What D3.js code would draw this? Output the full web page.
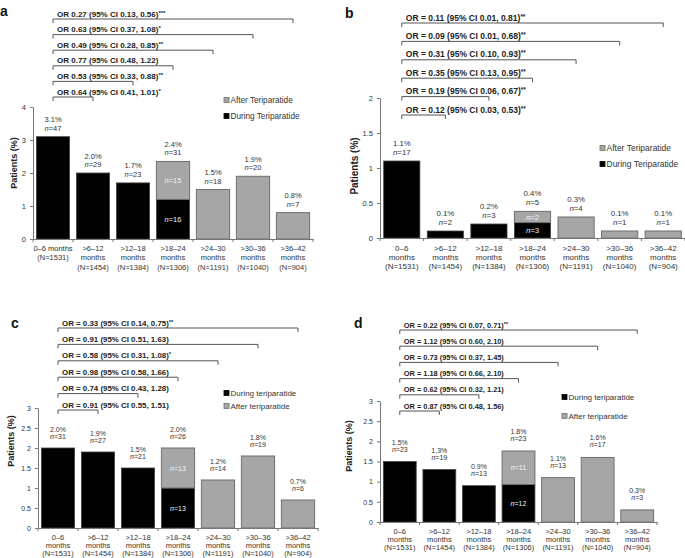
<!DOCTYPE html>
<html>
<head>
<meta charset="utf-8">
<script src="https://cdn.jsdelivr.net/npm/d3@7"></script>
<style>
  body { margin: 0; background: #fff; }
  svg { font-family: "Liberation Sans", Arial, sans-serif; }
</style>
</head>
<body>
<svg id="chart" width="685" height="558"></svg>
<script>
const periodRanges = ["0–6", ">6–12", ">12–18", ">18–24", ">24–30", ">30–36", ">36–42"];
const periodN = [1531, 1454, 1384, 1306, 1191, 1040, 904];

// panel a
const duringA = [3.1, 2.0, 1.7, 1.2, 0, 0, 0];
const afterA = [0, 0, 0, 1.15, 1.5, 1.9, 0.8];
const pctA = ["3.1%", "2.0%", "1.7%", "2.4%", "1.5%", "1.9%", "0.8%"];
const nA = [47, 29, 23, 31, 18, 20, 7];
const splitA = [16, 15];
const orA = [
  ["OR 0.64 (95% CI 0.41, 1.01)", "*"],
  ["OR 0.53 (95% CI 0.33, 0.88)", "**"],
  ["OR 0.77 (95% CI 0.48, 1.22)", ""],
  ["OR 0.49 (95% CI 0.28, 0.85)", "**"],
  ["OR 0.63 (95% CI 0.37, 1.08)", "*"],
  ["OR 0.27 (95% CI 0.13, 0.56)", "***"],
];

// panel b
const duringB = [1.1, 0.1, 0.2, 0.22, 0, 0, 0];
const afterB = [0, 0, 0, 0.16, 0.3, 0.1, 0.1];
const pctB = ["1.1%", "0.1%", "0.2%", "0.4%", "0.3%", "0.1%", "0.1%"];
const nB = [17, 2, 3, 5, 4, 1, 1];
const splitB = [3, 2];
const orB = [
  ["OR = 0.12 (95% CI 0.03, 0.53)", "**"],
  ["OR = 0.19 (95% CI 0.06, 0.67)", "**"],
  ["OR = 0.35 (95% CI 0.13, 0.95)", "**"],
  ["OR = 0.31 (95% CI 0.10, 0.93)", "**"],
  ["OR = 0.09 (95% CI 0.01, 0.68)", "**"],
  ["OR = 0.11 (95% CI 0.01, 0.81)", "**"],
];

// panel c
const duringC = [2.0, 1.9, 1.5, 1.0, 0, 0, 0];
const afterC = [0, 0, 0, 1.0, 1.2, 1.8, 0.7];
const pctC = ["2.0%", "1.9%", "1.5%", "2.0%", "1.2%", "1.8%", "0.7%"];
const nC = [31, 27, 21, 26, 14, 19, 6];
const splitC = [13, 13];
const orC = [
  ["OR = 0.91 (95% CI 0.55, 1.51)", ""],
  ["OR = 0.74 (95% CI 0.43, 1.28)", ""],
  ["OR = 0.98 (95% CI 0.58, 1.66)", ""],
  ["OR = 0.58 (95% CI 0.31, 1.08)", "*"],
  ["OR = 0.91 (95% CI 0.51, 1.63)", ""],
  ["OR = 0.33 (95% CI 0.14, 0.75)", "**"],
];

// panel d
const duringD = [1.5, 1.3, 0.9, 0.93, 0, 0, 0];
const afterD = [0, 0, 0, 0.83, 1.1, 1.6, 0.3];
const pctD = ["1.5%", "1.3%", "0.9%", "1.8%", "1.1%", "1.6%", "0.3%"];
const nD = [23, 19, 13, 23, 13, 17, 3];
const splitD = [12, 11];
const orD = [
  ["OR = 0.87 (95% CI 0.48, 1.56)", ""],
  ["OR = 0.62 (95% CI 0.32, 1.21)", ""],
  ["OR = 1.18 (95% CI 0.66, 2.10)", ""],
  ["OR = 0.73 (95% CI 0.37, 1.45)", ""],
  ["OR = 1.12 (95% CI 0.60, 2.10)", ""],
  ["OR = 0.22 (95% CI 0.07, 0.71)", "**"],
];

const BLACK = "#000";
const GRAY = "#a6a6a6";
const GRAY_STROKE = "#6f6f6f";
const TEXT = "#333";

const svg = d3.select("#chart");

function drawPanel(p) {
  const g = svg.append("g");
  const x = d3.scaleBand().domain(periodRanges).range([p.x0, p.x1])
    .paddingInner(0.17).paddingOuter(0.085);
  const y = d3.scaleLinear().domain([0, p.yMax]).range([p.yBase, p.yTop]);
  const bw = x.bandwidth();

  const rows = periodRanges.map((k, i) => ({
    k, i, during: p.during[i], after: p.after[i], pct: p.pct[i], n: p.n[i], N: periodN[i]
  }));

  // bars
  g.selectAll("rect.during").data(rows.filter(d => d.during > 0)).join("rect")
    .attr("x", d => x(d.k)).attr("width", bw)
    .attr("y", d => y(d.during)).attr("height", d => y(0) - y(d.during))
    .attr("fill", BLACK).attr("stroke", "#444").attr("stroke-width", 0.8);
  g.selectAll("rect.after").data(rows.filter(d => d.after > 0)).join("rect")
    .attr("x", d => x(d.k)).attr("width", bw)
    .attr("y", d => y(d.during + d.after)).attr("height", d => y(d.during) - y(d.during + d.after))
    .attr("fill", GRAY).attr("stroke", GRAY_STROKE).attr("stroke-width", 1);

  // value labels
  const lab = g.selectAll("g.val").data(rows).join("g")
    .attr("transform", d => `translate(${x(d.k) + bw / 2},${y(d.during + d.after)})`)
    .attr("text-anchor", "middle").attr("font-size", p.valSize).attr("fill", TEXT);
  lab.append("text").attr("y", p.pctDy).text(d => d.pct);
  const nt = lab.append("text").attr("y", p.nDy);
  nt.append("tspan").attr("font-style", "italic").text("n");
  nt.append("tspan").text(d => "=" + d.n);

  // labels inside the split bar
  const s = rows[3];
  const inner = [
    { v: p.split[0], yc: (y(0) + y(s.during)) / 2 },
    { v: p.split[1], yc: (y(s.during) + y(s.during + s.after)) / 2 },
  ];
  const it = g.selectAll("text.inner").data(inner).join("text")
    .attr("x", x(s.k) + bw / 2).attr("y", d => d.yc + 2.5)
    .attr("text-anchor", "middle").attr("font-size", p.valSize).attr("fill", "#f2f2f2");
  it.append("tspan").attr("font-style", "italic").text("n");
  it.append("tspan").text(d => "=" + d.v);

  // y axis
  const ya = g.append("g").attr("transform", `translate(${p.x0},0)`)
    .call(d3.axisLeft(y).tickValues(d3.range(0, p.yMax + 1e-9, p.yStep))
      .tickSize(3).tickSizeOuter(0).tickPadding(4).tickFormat(d => String(+d.toFixed(1))));
  ya.select(".domain").attr("stroke", "#777");
  ya.selectAll(".tick line").attr("stroke", "#777");
  ya.selectAll(".tick text").attr("font-size", p.tickSize).attr("fill", TEXT)
    .attr("font-family", "Liberation Sans, Arial, sans-serif");

  // x axis
  const xa = g.append("g").attr("transform", `translate(0,${p.yBase})`)
    .call(d3.axisBottom(x).tickSize(0).tickFormat(""));
  xa.select(".domain").attr("stroke", "#777");
  const step = x.step();
  const bounds = d3.range(periodRanges.length + 1).map(i => x(periodRanges[0]) - x.paddingInner() * step / 2 + i * step);
  g.selectAll("line.xt").data(bounds).join("line")
    .attr("x1", d => d).attr("x2", d => d)
    .attr("y1", p.yBase).attr("y2", p.yBase + 3).attr("stroke", "#777");

  const cl = g.selectAll("text.cat").data(rows).join("text")
    .attr("text-anchor", "middle").attr("font-size", p.catSize).attr("fill", TEXT);
  cl.each(function (d) {
    const lines = (p.firstOneLine && d.i === 0)
      ? [d.k + " months", "(N=" + d.N + ")"]
      : [d.k, "months", "(N=" + d.N + ")"];
    d3.select(this).selectAll("tspan").data(lines).join("tspan")
      .attr("x", x(d.k) + bw / 2)
      .attr("y", (l, j) => p.catY + j * p.catDy)
      .text(l => l);
  });

  // OR brackets
  const left = x(periodRanges[0]) + bw / 2;
  p.or.forEach((o, i) => {
    const right = x(periodRanges[i + 1]) + bw / 2;
    const yb = p.brBase + i * p.brStep;
    g.append("path")
      .attr("d", `M${left},${yb + 4}V${yb}H${right}V${yb + 4}`)
      .attr("fill", "none").attr("stroke", "#555").attr("stroke-width", 1);
    const t = g.append("text").attr("x", left + 4).attr("y", yb - 2.5)
      .attr("font-size", p.orSize).attr("font-weight", "bold").attr("fill", "#222");
    t.append("tspan").text(o[0]);
    if (o[1]) t.append("tspan").attr("font-size", p.orSize * 0.75).attr("dy", -2).text(o[1]);
  });

  // legend
  const lg = g.selectAll("g.leg").data(p.legend).join("g")
    .attr("transform", (d, i) => `translate(${p.legX},${p.legY + i * p.legDy})`);
  lg.append("rect").attr("x", 0).attr("y", -2.5).attr("width", 5).attr("height", 5)
    .attr("fill", d => d.color).attr("stroke", d => d.color === GRAY ? GRAY_STROKE : BLACK)
    .attr("stroke-width", 0.8);
  lg.append("text").attr("x", 6.5).attr("y", 3).attr("font-size", p.legSize).attr("fill", TEXT)
    .text(d => d.label);

  // y title
  g.append("text")
    .attr("transform", `translate(${p.titleX},${p.titleY}) rotate(-90)`)
    .attr("text-anchor", "middle").attr("font-weight", "bold").attr("font-size", p.titleSize)
    .attr("fill", "#222").text("Patients (%)");

  // panel letter
  g.append("text").attr("x", p.letterX).attr("y", p.letterY)
    .attr("font-weight", "bold").attr("font-size", 14).attr("fill", "#111").text(p.letter);
}

const legUpper = [
  { label: "After Teriparatide", color: GRAY },
  { label: "During Teriparatide", color: BLACK },
];
const legLower = [
  { label: "During teriparatide", color: BLACK },
  { label: "After teriparatide", color: GRAY },
];

drawPanel({
  letter: "a", letterX: 0, letterY: 16,
  during: duringA, after: afterA, pct: pctA, n: nA, split: splitA, or: orA,
  x0: 33, x1: 313, yBase: 239, yTop: 107, yMax: 4, yStep: 1,
  valSize: 7.5, pctDy: -14.5, nDy: -6, tickSize: 7.5,
  catSize: 7.5, catY: 250.5, catDy: 9.5, firstOneLine: true,
  brBase: 97, brStep: -15.6, orSize: 8,
  legend: legUpper, legX: 224, legY: 100, legDy: 16, legSize: 8.2,
  titleX: 17, titleY: 163, titleSize: 9
});

drawPanel({
  letter: "b", letterX: 345, letterY: 18,
  during: duringB, after: afterB, pct: pctB, n: nB, split: splitB, or: orB,
  x0: 380, x1: 685, yBase: 238, yTop: 98, yMax: 2, yStep: 0.5,
  valSize: 7.8, pctDy: -15, nDy: -6, tickSize: 7.5,
  catSize: 8, catY: 250.5, catDy: 9, firstOneLine: false,
  brBase: 115, brStep: -18.4, orSize: 8.5,
  legend: legUpper, legX: 600, legY: 148, legDy: 16, legSize: 8.5,
  titleX: 358, titleY: 166, titleSize: 10
});

drawPanel({
  letter: "c", letterX: 11, letterY: 328,
  during: duringC, after: afterC, pct: pctC, n: nC, split: splitC, or: orC,
  x0: 38, x1: 318, yBase: 528, yTop: 408, yMax: 3, yStep: 0.5,
  valSize: 7, pctDy: -16.5, nDy: -9.5, tickSize: 7,
  catSize: 7.5, catY: 539.5, catDy: 8, firstOneLine: false,
  brBase: 410, brStep: -16.4, orSize: 7.9,
  legend: legLower, legX: 224, legY: 393, legDy: 13, legSize: 8,
  titleX: 14, titleY: 441, titleSize: 9
});

drawPanel({
  letter: "d", letterX: 354, letterY: 328,
  during: duringD, after: afterD, pct: pctD, n: nD, split: splitD, or: orD,
  x0: 380, x1: 657, yBase: 522, yTop: 401, yMax: 3, yStep: 0.5,
  valSize: 7, pctDy: -17, nDy: -10, tickSize: 7,
  catSize: 7.5, catY: 534, catDy: 7.8, firstOneLine: false,
  brBase: 411, brStep: -16.2, orSize: 7.4,
  legend: legLower, legX: 562, legY: 397, legDy: 19, legSize: 8,
  titleX: 352, titleY: 446, titleSize: 9
});
</script>
</body>
</html>
